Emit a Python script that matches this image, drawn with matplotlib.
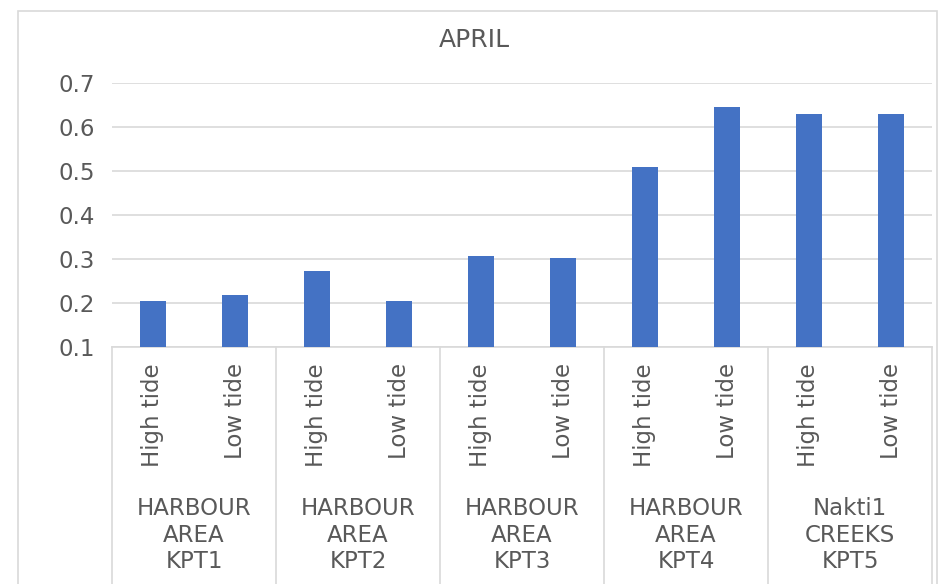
import matplotlib
matplotlib.use("Agg")
from matplotlib import pyplot as plt
from matplotlib.patches import Rectangle

# data
groups = ["HARBOUR\nAREA\nKPT1", "HARBOUR\nAREA\nKPT2", "HARBOUR\nAREA\nKPT3",
          "HARBOUR\nAREA\nKPT4", "Nakti1\nCREEKS\nKPT5"]
tides = ["High tide", "Low tide"]
values = [0.205, 0.218, 0.272, 0.205, 0.307, 0.303, 0.508, 0.645, 0.630, 0.630]
yticks = [0.1, 0.2, 0.3, 0.4, 0.5, 0.6, 0.7]

W, H = 941, 584
text_col = "#595959"
grid_col = "#D9D9D9"
bar_col = "#4472C4"

fig = plt.figure(figsize=(W / 100, H / 100), dpi=100)
ax = fig.add_axes([112 / W, (H - 347) / H, 820 / W, (347 - 83) / H])
ax_h = 347 - 83

x = list(range(len(values)))
ax.bar(x, [v - yticks[0] for v in values], bottom=yticks[0], width=0.32,
       color=bar_col, zorder=3)

ax.set_xlim(-0.5, len(values) - 0.5)
ax.set_ylim(yticks[0], yticks[-1])
ax.set_yticks(yticks)
ax.set_yticklabels([f"{t:.1f}" for t in yticks])
ax.tick_params(axis="y", length=0, pad=12, labelsize=16.5, labelcolor=text_col)
ax.tick_params(axis="x", length=0, labelbottom=False)
ax.grid(axis="y", color=grid_col, linewidth=1.2, zorder=0)
for s in ["left", "right", "top"]:
    ax.spines[s].set_visible(False)
ax.spines["bottom"].set_color(grid_col)
ax.spines["bottom"].set_linewidth(1.2)

trans = ax.get_xaxis_transform()
# inner labels (rotated)
for i in x:
    ax.text(i, -16 / ax_h, tides[i % 2], rotation=90, ha="center", va="top",
            fontsize=16.5, color=text_col, transform=trans)
# group labels and separators
for g, name in enumerate(groups):
    ax.text(2 * g + 0.5, -(497 - 347) / ax_h, name, ha="center", va="top",
            fontsize=16.5, color=text_col, linespacing=1.2, transform=trans,
            multialignment="center")
for b in range(len(groups) + 1):
    ax.plot([2 * b - 0.5, 2 * b - 0.5], [0, -(H - 347) / ax_h], color=grid_col,
            linewidth=1.2, transform=trans, clip_on=False)

# chart border and title
fig.patches.append(Rectangle((18 / W, -0.05), (937 - 18) / W, 1.05 - 11 / H,
                             transform=fig.transFigure, fill=False,
                             edgecolor=grid_col, linewidth=1.2))
fig.text(474 / W, 1 - 40 / H, "APRIL", ha="center", va="center",
         fontsize=18, color=text_col)

fig.savefig("out.png", dpi=100)
